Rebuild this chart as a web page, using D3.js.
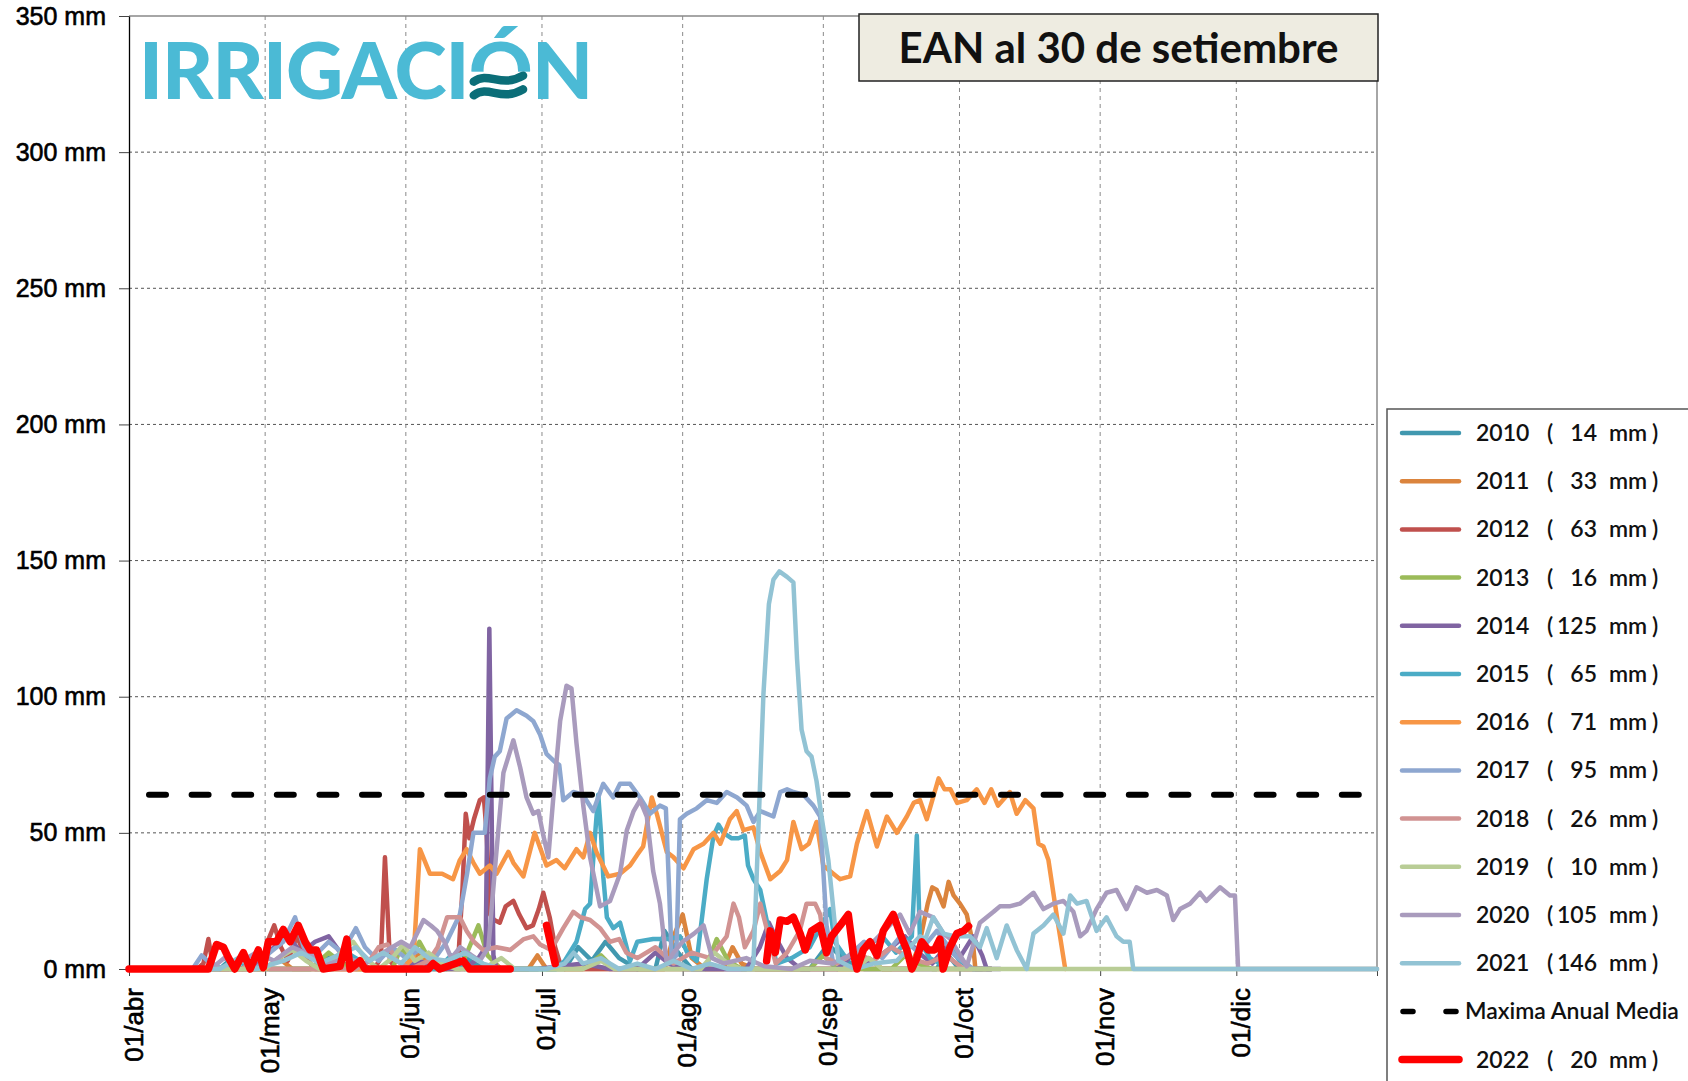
<!DOCTYPE html>
<html>
<head>
  <meta charset="utf-8">
  <script src="https://d3js.org/d3.v7.min.js"></script>
  <style>
    body { margin: 0; background: #fff; }
  </style>
</head>
<body>
<div id="chart"></div>
<script>
// ---- data (day counted from 01/abr, value in mm) ----
var monthDays   = [0, 30, 61, 91, 122, 153, 183, 214, 244];
var monthLabels = ["01/abr", "01/may", "01/jun", "01/jul", "01/ago", "01/sep", "01/oct", "01/nov", "01/dic"];
var yTicks = [0, 50, 100, 150, 200, 250, 300, 350];

var years  = ["2010", "2011", "2012", "2013", "2014", "2015", "2016", "2017", "2018", "2019", "2020", "2021"];
var maxima = [14, 33, 63, 16, 125, 65, 71, 95, 26, 10, 105, 146];
var colors = ["#4198AF", "#DB843D", "#C0504D", "#9BBB59", "#8064A2", "#4BACC6", "#F79646",
              "#8EA7D0", "#D19392", "#B9CD96", "#A99BBD", "#92C3D4"];

var mediaValue = 64;
var year2022 = "2022", max2022 = 20;

var s2010 = [[0,0],[20,0],[22,3],[25,0],[40,0],[44,5],[47,2],[52,0],[70,0],[73,6],[76,2],[80,0],[96,0],[99,8],[102,3],[105,10],[108,4],[112,0],[116,0],[118,14],[121,6],[124,0],[150,0],[154,9],[158,3],[162,0],[178,0],[180,6],[183,0],[188,0]];
var s2011 = [[0,0],[30,0],[33,4],[36,0],[60,0],[64,6],[67,0],[88,0],[90,5],[92,0],[118,0],[120,12],[122,20],[124,4],[127,0],[131,0],[133,8],[135,2],[138,0],[160,0],[163,4],[166,0],[172,0],[174,8],[176,24],[177,30],[178,29],[179.5,23],[180.6,32],[181.7,27],[183.1,24],[184.6,20],[186,9],[186.5,0],[190,0]];
var s2012 = [[0,0],[15,0],[16.4,2],[17.5,11],[18.5,1],[20,0],[29,0],[30.5,10],[32,16],[33.5,8],[35,3],[37,12],[39,4],[41,0],[54,0],[55.5,4],[56.4,41],[57.5,3],[59,0],[66,0],[70,3],[72.5,2],[73.5,30],[74.2,57],[75,48],[76,55],[77.3,62],[78.2,63],[78.8,50],[79.6,20],[80.5,18],[81.7,17],[83,23],[84.7,25],[86,20],[87.6,15],[89,16],[90.3,22],[91.3,28],[92.7,19],[93.9,8],[95,2],[96,0],[190,0]];
var s2013 = [[0,0],[25,0],[28,3],[31,0],[40,0],[44,6],[47,2],[50,0],[58,0],[60,8],[62,3],[64,10],[66,4],[69,0],[73,0],[75,8],[77,16],[79,5],[82,0],[100,0],[104,5],[107,0],[127,0],[129.5,11],[132,3],[135,0],[150,0],[153,5],[156,0],[168,0],[171,5],[174,2],[177,0],[190,0]];
var s2014 = [[0,0],[22,0],[25,4],[28,2],[32,8],[35,12],[38,6],[41,10],[44,12],[47,5],[50,2],[53,0],[60,0],[64,3],[68,0],[74,0],[77,4],[78.6,8],[79.4,125],[80.3,5],[81,0],[90,0],[100,2],[106,0],[112,0],[116,6],[119,2],[122,0],[136,0],[139,8],[141,17],[143,10],[145,4],[148,0],[156,0],[160,6],[163,2],[168,8],[171,12],[174,6],[177,2],[180,8],[183,4],[186,12],[188,5],[189,0],[192,0]];
var s2015 = [[0,0],[20,0],[24,3],[27,0],[45,0],[48,6],[51,3],[53,0],[68,0],[71,5],[74,0],[94,0],[96,3],[98.6,10],[100.5,22],[101.6,24],[102.5,45],[103.4,64],[104,50],[104.5,34],[105.3,19],[106.7,15],[108.2,17],[109.5,9],[110.4,3],[112,10],[115.5,11],[119,11],[121.4,12],[123,6],[125.1,3],[127.3,33],[128.8,49],[129.9,53],[131,50],[132.8,48],[134.3,48],[135.7,49],[136.4,38],[137.6,33],[139.1,29],[140.5,18],[142.7,2],[146,4],[150,8],[154.5,22],[155.5,10],[158,4],[162,8],[166,12],[169,6],[172.5,12],[173.6,49],[174.3,10],[176.5,4],[178.7,2],[181,8],[183,3],[186,0],[190,0]];
var s2016 = [[0,0],[60,0],[62.7,4],[64.1,44],[66.3,35],[69,35],[71.4,33],[72.9,40],[74.4,44],[75.9,39],[77.3,35],[79.5,38],[81,35],[83.6,43],[84.7,39],[86.9,34],[89.4,50],[92,38],[94.2,40],[96,37],[98.6,44],[100.1,41],[101.6,50],[103,43],[105.6,34],[108.2,35],[110.4,38],[112,42],[113.3,45],[115.2,63],[116.3,57],[118.5,43],[120,41],[122.2,37],[124.4,44],[126.6,46],[128.8,50],[130.3,46],[132.4,55],[133.9,58],[135.4,51],[137.6,52],[139.1,43],[141.3,33],[143.5,36],[145,40],[146.4,54],[148.2,44],[149.8,46],[151.5,54],[153,38],[155.2,35],[156.7,33],[158.9,34],[160.4,46],[162.6,58],[164.8,45],[167,56],[169.2,50],[171.4,56],[172.9,61],[174.3,62],[175.8,55],[178.4,70],[179.7,66],[181,66],[182.5,61],[184.6,62],[186.8,66],[188.5,61],[190,66],[191.5,60],[194.1,65],[195.6,57],[197.5,62],[199.3,59],[200.4,46],[201.5,45],[202.6,40],[204.4,20],[206.3,0]];
var s2017 = [[0,0],[14,0],[16,5],[18,2],[21,0],[28,0],[31,6],[34,10],[36.6,19],[38.5,8],[41,5],[44,10],[47,6],[50,15],[52,8],[55,3],[58,8],[61,4],[64,7],[67,3],[70,10],[72.9,20],[74.5,35],[75.9,50],[78.4,50],[79.5,70],[80.6,78],[81.7,80],[83.2,92],[85.4,95],[87.6,93],[89.1,91],[90.6,86],[92,79],[93.9,76],[94.8,75],[95.7,62],[97.9,65],[100,64],[102.3,58],[104.5,68],[106.7,63],[108.2,68],[110.4,68],[112.6,63],[114.8,57],[117,60],[118.3,59],[119,30],[119.6,3],[120.6,5],[121.4,55],[122.9,57],[125.1,59],[127.3,62],[129.5,61],[131.7,65],[134,63],[136.1,60],[137.6,54],[139.1,58],[142,56],[143.5,65],[145,66],[146.4,65],[148.6,64],[150.8,60],[152.3,56],[153.7,16],[155.2,2],[158,4],[162,10],[166,4],[170,12],[174,6],[178,14],[182,5],[186,0],[190,0]];
var s2018 = [[0,0],[25,0],[28,4],[31,0],[50,0],[53,3],[55,8],[57,9],[59,3],[62,0],[66,3],[68,8],[70.1,19],[72.9,19],[74.4,14],[76,10],[78,7],[81,8],[84,7],[87,11],[89.1,12],[90.6,9],[93,7],[95.7,15],[97.9,21],[99.5,19],[101.6,18],[103.8,15],[106,10],[108,11],[109.6,6],[112,4],[116,8],[120,2],[124,6],[128,4],[131.7,12],[133.2,24],[134.4,19],[135.7,8],[137.6,14],[139.1,24],[140.5,15],[142.5,2],[145,6],[147.8,14],[149.3,24],[151.2,24],[152.3,20],[153.7,4],[156,2],[160,6],[164,3],[168,8],[172,4],[176,2],[180,5],[184,0],[190,0]];
var s2019 = [[0,0],[30,0],[33,4],[36,7],[39,3],[42,0],[46,5],[49.4,10],[52,4],[55,0],[58,4],[60.4,9],[63,3],[66,6],[69,2],[72,0],[78,0],[82,4],[85,0],[100,0],[104,3],[107,0],[126,0],[129,6],[132,2],[135,0],[160,0],[163,4],[166,0],[275,0]];
var s2020 = [[0,0],[18,0],[21,4],[24,2],[28,6],[32,3],[36,8],[40,5],[44,2],[48,4],[52,2],[56,6],[60,10],[62,8],[64.9,18],[66.5,16],[67.9,14],[69.5,10],[71,4],[73,8],[75.5,5],[77.3,3],[79.2,8],[80.8,40],[82.5,72],[84.7,84],[86.2,74],[87.6,63],[89.1,57],[90.2,58],[91.3,49],[92.4,41],[93.5,63],[95,91],[96.4,104],[97.5,103],[98.6,83],[100.1,60],[101.6,41],[103.8,23],[106,25],[108.2,35],[109.7,51],[111.2,58],[112.6,62],[114.1,56],[115.5,36],[117,24],[118.5,2],[120,6],[122,10],[124.5,13],[126.6,16],[128.5,4],[131,2],[136,4],[140,1],[146,0],[150,3],[155,2],[160,6],[164,10],[167,15],[169.9,20],[172,13],[174.3,21],[177.2,19],[179.5,13],[181,11],[184.6,1],[187.5,17],[190.5,21],[191.9,23],[194,23],[196.3,24],[199.3,28],[201.5,22],[203.7,24],[205.9,25],[208.1,21],[209.6,12],[211,14],[213.2,22],[215.4,28],[217.6,29],[219.8,22],[222,30],[224.3,28],[226.5,29],[228.7,27],[230.1,18],[231.6,22],[233.8,24],[236,28],[237.4,25],[240.4,30],[242.6,27],[243.7,27],[244.4,0],[275,0]];
var s2021 = [[0,0],[20,0],[24,4],[28,0],[34,3],[38,6],[42,2],[46,5],[50,8],[53,3],[56,6],[60,2],[63,8],[66,4],[70,3],[74,6],[78,2],[82,0],[92,0],[96,2],[98,6],[100,2],[104,4],[108,0],[112,2],[116,0],[120,3],[124,0],[128,2],[132,0],[137,0],[137.6,2],[138.7,52],[139.8,101],[141,134],[142,143],[143.3,146],[145,144],[146.4,142],[147.2,114],[148.2,88],[149.3,80],[150.4,78],[151.5,69],[152.6,56],[154.1,40],[155.2,22],[156.3,3],[160,0],[164,2],[169.2,3],[172,8],[174.3,12],[175.5,11],[177.2,19],[179.5,13],[182,12],[185.3,12],[187.5,8],[189,15],[191.2,4],[193.4,16],[195.6,7],[197.8,0],[199.3,13],[201.5,16],[203.7,20],[205.9,13],[207.4,27],[208.9,24],[211,25],[213.2,14],[215.4,19],[217.6,12],[219.1,10],[220.5,10],[221.3,0],[275,0]];
// 2022 has missing days (null)
var s2022 = [[0,0],[17.5,0],[19.3,9],[20.8,8],[21.8,4.5],[23.3,0],[25.2,6],[26.7,0],[28.5,7],[29.6,0.5],[30.7,10],[32.5,10],[34,14.5],[35.5,10],[37.3,16],[38.8,10],[39.9,7],[41.3,7],[42.8,0],[46.5,1],[48,11],[48.7,0],[50.9,3],[52,0],[66,0],[67,2],[68.5,0],[73.7,3],[75,0],[84,0],[85,null],
             [92,16],[93.9,2],[94.5,null],
             [140.5,3],[141.3,14],[142.4,6],[143.5,18],[145,17.5],[146.4,19],[147.9,13],[149,7],[150.4,14],[152.3,16],[153.7,6],[154.8,12],[156.7,16],[158.5,20],[159.6,6],[160.4,0],[161.8,7],[163.3,10],[164.8,5],[166.2,14],[168.4,20],[169.9,13],[171.4,7],[172.5,0],[173.6,4],[174.7,10],[176.1,7],[177.5,7],[178.7,11],[179.4,0],[180.9,8],[182.4,13],[183.9,14],[185,15.7]];
var seriesData = [s2010, s2011, s2012, s2013, s2014, s2015, s2016, s2017, s2018, s2019, s2020, s2021];

// ---- svg ----
var W = 1688, H = 1081;
var svg = d3.select("#chart").append("svg")
    .attr("width", W).attr("height", H)
    .style("font-family", "'Liberation Sans', Arial, sans-serif");

svg.append("rect").attr("width", W).attr("height", H).attr("fill", "#fff");

var x = d3.scaleLinear().domain([0, 275]).range([129, 1377]);
var y = d3.scaleLinear().domain([0, 350]).range([969, 16]);

// gridlines
svg.append("g").selectAll("line")
  .data(yTicks.filter(function(d) { return d > 0 && d < 350; }))
  .enter().append("line")
    .attr("x1", x(0)).attr("x2", x(275))
    .attr("y1", function(d) { return y(d); }).attr("y2", function(d) { return y(d); })
    .attr("stroke", "#555").attr("stroke-width", 1).attr("stroke-dasharray", "3,3");

svg.append("g").selectAll("line")
  .data(monthDays.slice(1))
  .enter().append("line")
    .attr("x1", function(d) { return x(d); }).attr("x2", function(d) { return x(d); })
    .attr("y1", y(350)).attr("y2", y(0))
    .attr("stroke", "#8a8a8a").attr("stroke-width", 1).attr("stroke-dasharray", "4,4");

// plot frame (top/right)
svg.append("line").attr("x1", x(0)).attr("x2", x(275)).attr("y1", y(350)).attr("y2", y(350))
  .attr("stroke", "#888").attr("stroke-width", 1.5);
svg.append("line").attr("x1", x(275)).attr("x2", x(275)).attr("y1", y(350)).attr("y2", y(0))
  .attr("stroke", "#888").attr("stroke-width", 1.5);

// logo
var logo = svg.append("text")
    .attr("x", 139).attr("y", 99)
    .style("font-family", "Lato, sans-serif")
    .style("font-weight", 900)
    .style("font-size", "79px")
    .attr("fill", "#4BBAD5")
    .text("IRRIGACIÓN");
var lw = logo.node().getComputedTextLength();
logo.style("letter-spacing", ((454 - lw) / 9) + "px");
var oBox = logo.node().getExtentOfChar(8);
var capH = 79 * 0.72;
var oTop = 99 - capH;
svg.append("rect")
    .attr("x", oBox.x + 1).attr("width", oBox.width - 2)
    .attr("y", oTop + capH * 0.52).attr("height", capH * 0.6)
    .attr("fill", "#fff");
[0.66, 0.9].forEach(function(f) {
  var x0 = oBox.x + oBox.width * 0.08, x1 = oBox.x + oBox.width * 0.86, yc = oTop + capH * f, w = x1 - x0;
  svg.append("path")
    .attr("d", "M" + x0 + "," + (yc + 2) +
               " C" + (x0 + w * 0.3) + "," + (yc - 9) + " " + (x0 + w * 0.55) + "," + (yc + 9) + " " + x1 + "," + (yc - 4))
    .attr("fill", "none").attr("stroke", "#0B6E78").attr("stroke-width", 8.5).attr("stroke-linecap", "round");
});

// axes
var yAxis = svg.append("g")
    .attr("transform", "translate(" + x(0) + ",0)")
    .call(d3.axisLeft(y).tickValues(yTicks).tickSize(10).tickSizeOuter(0).tickPadding(13)
          .tickFormat(function(d) { return d + " mm"; }));
yAxis.select(".domain").attr("stroke", "#000").attr("stroke-width", 1.3);
yAxis.selectAll(".tick line").attr("stroke", "#444");
yAxis.selectAll("text").style("font-family", "'Liberation Sans', Arial, sans-serif")
    .style("font-size", "25px").attr("fill", "#000")
    .attr("stroke", "#000").attr("stroke-width", 0.6);

var xAxis = svg.append("g")
    .attr("transform", "translate(0," + y(0) + ")")
    .call(d3.axisBottom(x).tickValues(monthDays.concat([275])).tickSize(7).tickSizeOuter(0)
          .tickFormat(function(d) { var i = monthDays.indexOf(d); return i >= 0 ? monthLabels[i] : ""; }));
xAxis.select(".domain").attr("stroke", "#000").attr("stroke-width", 1.3);
xAxis.selectAll(".tick line").attr("stroke", "#444");
xAxis.selectAll("text")
    .style("font-family", "'Liberation Sans', Arial, sans-serif")
    .style("font-size", "26px").attr("fill", "#000")
    .attr("stroke", "#000").attr("stroke-width", 0.6)
    .attr("text-anchor", "end")
    .attr("transform", "rotate(-90)")
    .attr("x", -19).attr("y", 13).attr("dy", 0);

// series lines
var line = d3.line()
    .defined(function(d) { return d[1] !== null; })
    .x(function(d) { return x(d[0]); })
    .y(function(d) { return y(d[1]); });

svg.append("g").selectAll("path")
  .data(seriesData)
  .enter().append("path")
    .attr("d", line)
    .attr("fill", "none")
    .attr("stroke", function(d, i) { return colors[i]; })
    .attr("stroke-width", 4.5)
    .attr("stroke-linejoin", "round")
    .attr("stroke-linecap", "round");

// maxima anual media
svg.append("path")
    .attr("d", line([[0, mediaValue], [275, mediaValue]]))
    .attr("fill", "none").attr("stroke", "#000").attr("stroke-width", 6)
    .attr("stroke-linecap", "round")
    .attr("stroke-dasharray", "17,25.6").attr("stroke-dashoffset", 22.6);

// 2022
svg.append("path")
    .attr("d", line(s2022))
    .attr("fill", "none").attr("stroke", "#FF0000").attr("stroke-width", 7.5)
    .attr("stroke-linejoin", "round").attr("stroke-linecap", "round");

// title box
svg.append("rect").attr("x", 859).attr("y", 14).attr("width", 519).attr("height", 67)
    .attr("fill", "#EEECE1").attr("stroke", "#222").attr("stroke-width", 1.5);
svg.append("text").attr("x", 1118.5).attr("y", 63)
    .attr("text-anchor", "middle")
    .style("font-family", "Lato, sans-serif").style("font-weight", 700).style("font-size", "42px")
    .attr("fill", "#111")
    .text("EAN al 30 de setiembre");

// legend
var lg = svg.append("g");
lg.append("rect").attr("x", 1387).attr("y", 409).attr("width", 320).attr("height", 700)
    .attr("fill", "#fff").attr("stroke", "#555").attr("stroke-width", 1.5);

var rowY = function(i) { return 433 + i * 48.2; };
var legendFont = function(sel) {
  return sel.style("font-family", "Lato, sans-serif").style("font-weight", 600)
            .style("font-size", "23px").attr("fill", "#111").attr("dy", "0.35em");
};
var addRow = function(i, yr, mx, col, width) {
  lg.append("line").attr("x1", 1402).attr("x2", 1459).attr("y1", rowY(i)).attr("y2", rowY(i))
    .attr("stroke", col).attr("stroke-width", width).attr("stroke-linecap", "round");
  legendFont(lg.append("text").attr("x", 1476).attr("y", rowY(i)).text(yr));
  legendFont(lg.append("text").attr("x", 1547).attr("y", rowY(i)).text("("));
  legendFont(lg.append("text").attr("x", 1597).attr("y", rowY(i)).attr("text-anchor", "end").text(mx));
  legendFont(lg.append("text").attr("x", 1609).attr("y", rowY(i)).text("mm"));
  legendFont(lg.append("text").attr("x", 1652).attr("y", rowY(i)).text(")"));
};
years.forEach(function(yr, i) { addRow(i, yr, maxima[i], colors[i], 4.5); });

lg.append("line").attr("x1", 1403).attr("x2", 1458).attr("y1", rowY(12)).attr("y2", rowY(12))
  .attr("stroke", "#000").attr("stroke-width", 5.5).attr("stroke-linecap", "round")
  .attr("stroke-dasharray", "10,33");
legendFont(lg.append("text").attr("x", 1465).attr("y", rowY(12)).text("Maxima Anual Media"));

addRow(13, year2022, max2022, "#FF0000", 7.5);
</script>
</body>
</html>
